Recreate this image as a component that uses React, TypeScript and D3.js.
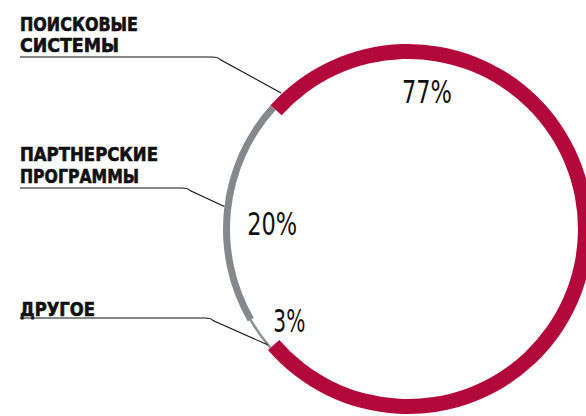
import React from "react";
import * as d3 from "d3";

// clockwise from the red start
const categories = ["ПОИСКОВЫЕ СИСТЕМЫ", "ДРУГОЕ", "ПАРТНЕРСКИЕ ПРОГРАММЫ"];
const shares = [77, 3, 20];
const colors = ["#b3083a", "#8d8e92", "#87888c"];
const thickness = [15, 2.5, 7];
const labelLines = [["ПОИСКОВЫЕ", "СИСТЕМЫ"], ["ДРУГОЕ"], ["ПАРТНЕРСКИЕ", "ПРОГРАММЫ"]];
const labelWidths = [[118, 99], [75], [138, 119]];

const W = 586;
const H = 416;
const cx = 408;
const cy = 229;
const R = 185;
const startDeg = -48;

// label layout: first baseline, underline y, angle where leader hits ring
const labelBase = [31, 315.5, 161.5];
const lineGap = 21.5;
const underlineY = [57, 318, 188];
const leaderDeg = [-43, 230.5, -83];
const leaderR = [186, 182, 185];
const elbowX = [212, 205, 182];

// percent labels: polar position (baseline centre) around the centre
const pctDeg = [8.6, 229.1, 267.5];
const pctR = [127, 157, 136];

const rad = (d: number) => (d * Math.PI) / 180;
const polar = (deg: number, r: number): [number, number] => [
  cx + r * Math.sin(rad(deg)),
  cy - r * Math.cos(rad(deg)),
];

export default function App() {
  const pie = d3
    .pie<number>()
    .sort(null)
    .value((d) => d)
    .startAngle(rad(startDeg))
    .endAngle(rad(startDeg + 360));
  const arcs = pie(shares);

  const arcGen = (i: number) =>
    d3
      .arc<d3.PieArcDatum<number>>()
      .outerRadius(i === 1 ? R - 2 : R)
      .innerRadius((i === 1 ? R - 2 : R) - thickness[i]);

  return (
    <svg width={W} height={H} style={{ position: "absolute", left: 0, top: 0 }}>
      <rect width={W} height={H} fill="#fff" />
      <g transform={`translate(${cx},${cy})`}>
        {arcs.map((a, i) => (
          <path key={i} d={arcGen(i)(a) ?? ""} fill={colors[i]} />
        ))}
      </g>
      {categories.map((c, i) => {
        const end = polar(leaderDeg[i], leaderR[i]);
        const y = underlineY[i];
        const ex = elbowX[i];
        const d = `M20,${y} L${ex},${y} Q${ex + 6},${y} ${ex + 8},${y + 2.5} L${end[0]},${end[1]}`;
        const n = labelLines[i].length;
        return (
          <g key={c}>
            <path d={d} fill="none" stroke="#111" strokeWidth={1.1} />
            {labelLines[i].map((t, j) => (
              <text
                key={t}
                x={20}
                y={labelBase[i] + (j - (n - 1)) * lineGap + (n - 1) * 21}
                fontFamily="'Liberation Sans Narrow', 'DejaVu Sans Condensed', sans-serif"
                fontWeight="bold"
                fontSize={19}
                textLength={labelWidths[i][j]}
                lengthAdjust="spacingAndGlyphs"
                fill="#111"
                stroke="#111"
                strokeWidth={0.6}
              >
                {t}
              </text>
            ))}
          </g>
        );
      })}
      {shares.map((s, i) => {
        const [x, y] = polar(pctDeg[i], pctR[i]);
        return (
          <text
            key={i}
            x={x}
            y={y}
            textAnchor="middle"
            fontFamily="'Liberation Sans Narrow', 'DejaVu Sans Condensed', sans-serif"
            fontSize={32}
            textLength={s >= 10 ? 50 : 32}
            lengthAdjust="spacingAndGlyphs"
            fill="#111"
          >
            {`${s}%`}
          </text>
        );
      })}
    </svg>
  );
}
